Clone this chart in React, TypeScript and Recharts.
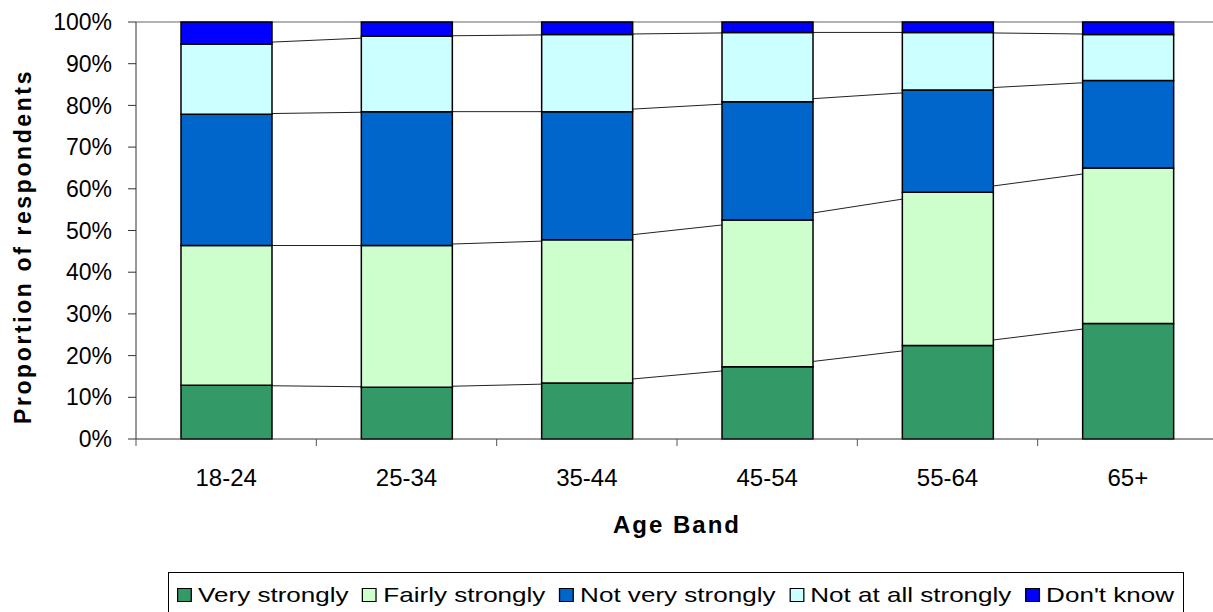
import React from 'react';
import { ComposedChart, Bar, Line, XAxis, YAxis, CartesianGrid, Legend } from 'recharts';

// values, % of respondents per age band
const ageBands = ['18-24', '25-34', '35-44', '45-54', '55-64', '65+'];
const veryStrongly = [12.9, 12.4, 13.4, 17.3, 22.4, 27.7];
const fairlyStrongly = [33.5, 34.0, 34.4, 35.2, 36.8, 37.3];
const notVeryStrongly = [31.5, 32.1, 30.7, 28.4, 24.5, 21.0];
const notAtAllStrongly = [16.8, 18.1, 18.5, 16.6, 13.8, 11.0];
const dontKnow = [5.3, 3.4, 3.0, 2.5, 2.5, 3.0];
const yTicks = [0, 10, 20, 30, 40, 50, 60, 70, 80, 90, 100];

const series = [
    { key: 'very', name: 'Very strongly', color: '#339966' },
    { key: 'fairly', name: 'Fairly strongly', color: '#CCFFCC' },
    { key: 'notVery', name: 'Not very strongly', color: '#0066CC' },
    { key: 'notAtAll', name: 'Not at all strongly', color: '#CCFFFF' },
    { key: 'dontKnow', name: "Don't know", color: '#0000FF' },
];

const data = ageBands.map((band, i) => {
    const c1 = veryStrongly[i];
    const c2 = c1 + fairlyStrongly[i];
    const c3 = c2 + notVeryStrongly[i];
    const c4 = c3 + notAtAllStrongly[i];
    return {
        band,
        very: veryStrongly[i],
        fairly: fairlyStrongly[i],
        notVery: notVeryStrongly[i],
        notAtAll: notAtAllStrongly[i],
        dontKnow: dontKnow[i],
        // tops of each stack segment, used for the series lines
        cum1: c1,
        cum2: c2,
        cum3: c3,
        cum4: c4,
    };
});

const FONT = '"Liberation Sans", Arial, Helvetica, sans-serif';
const CHART_W = 1220;
const CHART_H = 612;
const Y_AXIS_W = 136;
const MARGIN = { top: 22, right: 2, left: 0, bottom: 73 };
const HALF_BAND = (CHART_W - MARGIN.right - Y_AXIS_W) / ageBands.length / 2;

const AgeTick = (props: any) => {
    const { x, y, payload, index } = props;
    return (
        <g>
            {index === 0 && <line x1={x - HALF_BAND} y1={y - 7} x2={x - HALF_BAND} y2={y} stroke="#555" />}
            <line x1={x + HALF_BAND} y1={y - 7} x2={x + HALF_BAND} y2={y} stroke="#555" />
            <text x={x} y={y + 40} textAnchor="middle" fontSize={24} fill="#000" fontFamily={FONT}>
                {payload.value}
            </text>
        </g>
    );
};

const LegendBox = () => (
    <div style={{ paddingLeft: 8, paddingTop: 10 }}>
        <div
            style={{
                display: 'flex',
                alignItems: 'center',
                transform: 'scaleX(1.24)',
                transformOrigin: '0 0',
                fontFamily: FONT,
                fontSize: 21,
                lineHeight: '24px',
                color: '#000',
                whiteSpace: 'nowrap',
            }}
        >
            {series.map((s, i) => (
                <div key={s.key} style={{ display: 'flex', alignItems: 'center', marginRight: i < series.length - 1 ? 11 : 0 }}>
                    <span
                        style={{
                            display: 'inline-block',
                            width: 12,
                            height: 14,
                            boxSizing: 'border-box',
                            border: '1.5px solid #000',
                            backgroundColor: s.color,
                            marginRight: 5,
                        }}
                    />
                    <span>{s.name}</span>
                </div>
            ))}
        </div>
    </div>
);

export default function App() {
    return (
        <div style={{ position: 'absolute', left: 0, top: 0, width: 1213, height: CHART_H, overflow: 'hidden', background: '#fff' }}>
            <ComposedChart width={CHART_W} height={CHART_H} data={data} margin={MARGIN} barSize={91} style={{ fontFamily: FONT }}>
                <CartesianGrid vertical={false} horizontalValues={[100]} stroke="#999" strokeWidth={1.5} />
                <XAxis
                    dataKey="band"
                    interval={0}
                    height={100}
                    stroke="#333"
                    tickLine={false}
                    tickSize={7}
                    tickMargin={0}
                    tick={<AgeTick />}
                    label={{
                        content: (p: any) => {
                            const vb = p.viewBox || { x: 136, y: 439, width: 1082 };
                            return (
                                <text x={vb.x + vb.width / 2} y={vb.y + 94} textAnchor="middle" fontSize={24} fontWeight="bold" letterSpacing={2} fill="#000" fontFamily={FONT}>
                                    Age Band
                                </text>
                            );
                        },
                    }}
                />
                <YAxis
                    type="number"
                    domain={[0, 100]}
                    ticks={yTicks}
                    interval={0}
                    width={Y_AXIS_W}
                    stroke="#333"
                    tickSize={8}
                    tickMargin={16}
                    tickFormatter={(v: number) => `${v}%`}
                    tick={{ fontSize: 23, fill: '#000', fontFamily: FONT }}
                    label={{
                        content: (p: any) => {
                            const vb = p.viewBox || { x: 0, y: 22, height: 417 };
                            const cx = vb.x + 31;
                            const cy = vb.y + vb.height / 2 + 16;
                            return (
                                <text x={cx} y={cy} transform={`rotate(-90, ${cx}, ${cy})`} textAnchor="middle" fontSize={23} fontWeight="bold" letterSpacing={2.6} fill="#000" fontFamily={FONT}>
                                    Proportion of respondents
                                </text>
                            );
                        },
                    }}
                />
                {['cum1', 'cum2', 'cum3', 'cum4'].map((k) => (
                    <Line
                        key={k}
                        dataKey={k}
                        type="linear"
                        stroke="#222"
                        strokeWidth={1}
                        dot={false}
                        activeDot={false}
                        legendType="none"
                        isAnimationActive={false}
                        zIndex={100}
                    />
                ))}
                {series.map((s) => (
                    <Bar
                        key={s.key}
                        dataKey={s.key}
                        name={s.name}
                        stackId="a"
                        fill={s.color}
                        stroke="#000"
                        strokeWidth={1.5}
                        isAnimationActive={false}
                    />
                ))}
                <Legend
                    layout="horizontal"
                    verticalAlign="middle"
                    align="center"
                    wrapperStyle={{
                        left: 168,
                        top: 572,
                        width: 1016,
                        height: 50,
                        border: '1px solid #000',
                        boxSizing: 'border-box',
                        background: '#fff',
                    }}
                    content={() => <LegendBox />}
                />
            </ComposedChart>
        </div>
    );
}
